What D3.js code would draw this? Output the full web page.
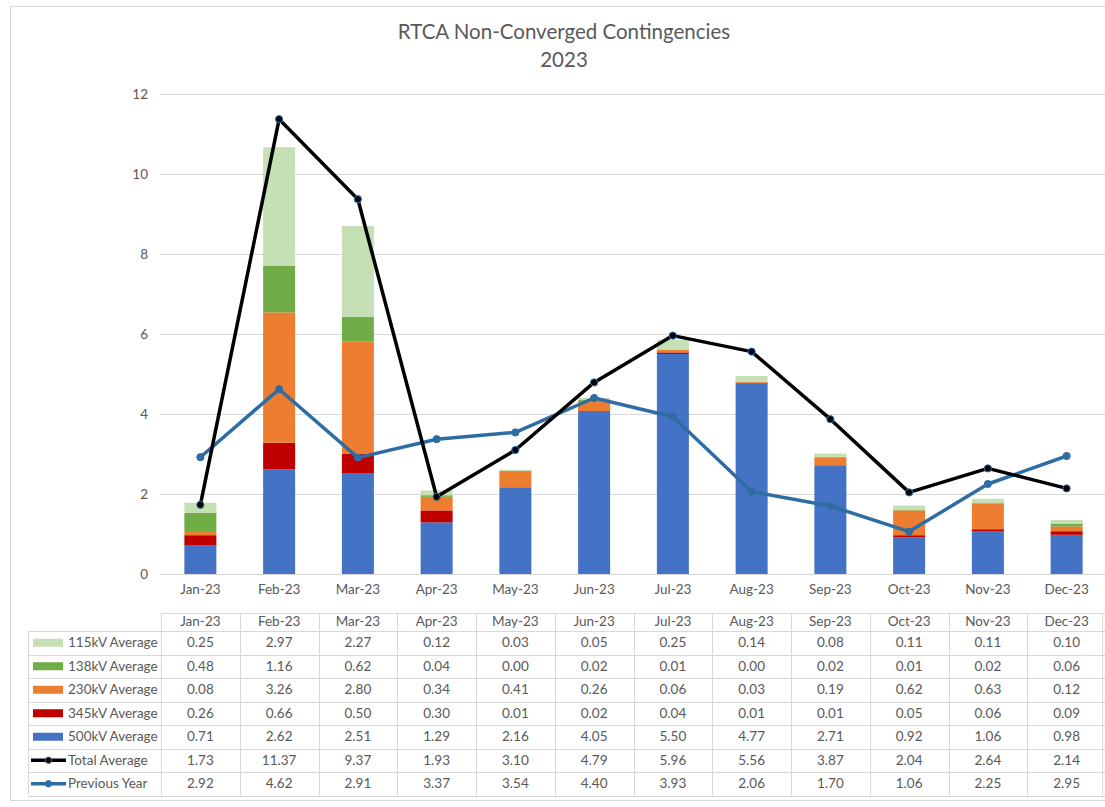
<!DOCTYPE html>
<html>
<head>
<meta charset="utf-8">
<script src="https://cdn.jsdelivr.net/npm/d3@7"></script>
<style>
  body { margin: 0; background: #fff; }
  svg { font-family: Lato, "Open Sans", sans-serif; }
</style>
</head>
<body>
<div id="chart"></div>
<script>
// months on the x axis
const months = ["Jan-23","Feb-23","Mar-23","Apr-23","May-23","Jun-23","Jul-23","Aug-23","Sep-23","Oct-23","Nov-23","Dec-23"];

// stacked bar series (values from the data table)
const kv115 = [0.25, 2.97, 2.27, 0.12, 0.03, 0.05, 0.25, 0.14, 0.08, 0.11, 0.11, 0.10];
const kv138 = [0.48, 1.16, 0.62, 0.04, 0.00, 0.02, 0.01, 0.00, 0.02, 0.01, 0.02, 0.06];
const kv230 = [0.08, 3.26, 2.80, 0.34, 0.41, 0.26, 0.06, 0.03, 0.19, 0.62, 0.63, 0.12];
const kv345 = [0.26, 0.66, 0.50, 0.30, 0.01, 0.02, 0.04, 0.01, 0.01, 0.05, 0.06, 0.09];
const kv500 = [0.71, 2.62, 2.51, 1.29, 2.16, 4.05, 5.50, 4.77, 2.71, 0.92, 1.06, 0.98];

// line series
const totalAvg = [1.73, 11.37, 9.37, 1.93, 3.10, 4.79, 5.96, 5.56, 3.87, 2.04, 2.64, 2.14];
const prevYear = [2.92, 4.62, 2.91, 3.37, 3.54, 4.40, 3.93, 2.06, 1.70, 1.06, 2.25, 2.95];

const yTicks = [0, 2, 4, 6, 8, 10, 12];

// stack order bottom -> top
const barSeries = [
  {name: "500kV Average", values: kv500, color: "#4472C4"},
  {name: "345kV Average", values: kv345, color: "#C00000"},
  {name: "230kV Average", values: kv230, color: "#ED7D31"},
  {name: "138kV Average", values: kv138, color: "#70AD47"},
  {name: "115kV Average", values: kv115, color: "#C5E0B4"}
];
const lineSeries = [
  {name: "Total Average", values: totalAvg, color: "#000000", marker: "#000000", outline: "#2E75B6"},
  {name: "Previous Year", values: prevYear, color: "#2E6DA4", marker: "#2E6DA4", outline: "#2E6DA4"}
];

// table rows in the order shown
const tableRows = [
  {name: "115kV Average", values: kv115, color: "#C5E0B4", type: "bar"},
  {name: "138kV Average", values: kv138, color: "#70AD47", type: "bar"},
  {name: "230kV Average", values: kv230, color: "#ED7D31", type: "bar"},
  {name: "345kV Average", values: kv345, color: "#C00000", type: "bar"},
  {name: "500kV Average", values: kv500, color: "#4472C4", type: "bar"},
  {name: "Total Average", values: totalAvg, color: "#000000", type: "line"},
  {name: "Previous Year", values: prevYear, color: "#2E6DA4", type: "line"}
];

const W = 1105, H = 807;
const svg = d3.select("#chart").append("svg")
  .attr("width", W).attr("height", H);

// outer chart border
svg.append("rect")
  .attr("x", 10.5).attr("y", 6.5).attr("width", 1110).attr("height", 794)
  .attr("fill", "none").attr("stroke", "#d9d9d9");

// title
svg.append("text").attr("x", 564).attr("y", 39).attr("text-anchor", "middle")
  .attr("fill", "#595959").style("font-size", "20.5px")
  .text("RTCA Non-Converged Contingencies");
svg.append("text").attr("x", 564).attr("y", 67).attr("text-anchor", "middle")
  .attr("fill", "#595959").style("font-size", "20.5px")
  .text("2023");

const x = d3.scaleBand().domain(months).range([161, 1106]).paddingInner(0).paddingOuter(0);
const y = d3.scaleLinear().domain([0, 12]).range([574, 94]);
const barW = 32;

// gridlines
svg.append("g").selectAll("line").data(yTicks).enter().append("line")
  .attr("x1", 161).attr("x2", 1106)
  .attr("y1", d => y(d) + 0.5).attr("y2", d => y(d) + 0.5)
  .attr("stroke", "#d9d9d9").attr("stroke-width", 1);

// y axis labels
const yAxis = d3.axisLeft(y).tickValues(yTicks).tickSize(0).tickPadding(0);
svg.append("g").attr("transform", "translate(148,0)").call(yAxis)
  .call(g => g.select(".domain").remove())
  .call(g => g.selectAll("text").attr("fill", "#595959").style("font-size", "13.5px").style("font-family", "Lato, sans-serif"));

// x axis labels
const xAxis = d3.axisBottom(x).tickSize(0).tickPadding(0);
svg.append("g").attr("transform", "translate(0,584)").call(xAxis)
  .call(g => g.select(".domain").remove())
  .call(g => g.selectAll("text").attr("fill", "#595959").style("font-size", "13.5px").style("font-family", "Lato, sans-serif"));

// stacked bars
const stackData = months.map((m, i) => {
  const row = {month: m};
  barSeries.forEach(s => row[s.name] = s.values[i]);
  return row;
});
const stack = d3.stack().keys(barSeries.map(s => s.name));
const stacked = stack(stackData);

svg.append("g").selectAll("g").data(stacked).enter().append("g")
  .attr("fill", (d, i) => barSeries[i].color)
  .selectAll("rect").data(d => d).enter().append("rect")
  .attr("x", d => x(d.data.month) + x.bandwidth() / 2 - barW / 2)
  .attr("width", barW)
  .attr("y", d => y(d[1]))
  .attr("height", d => Math.max(0, y(d[0]) - y(d[1])));

// lines
const line = d3.line()
  .x((d, i) => x(months[i]) + x.bandwidth() / 2)
  .y(d => y(d));

lineSeries.slice().reverse().forEach(s => {
  const g = svg.append("g");
  g.append("path")
    .attr("d", line(s.values))
    .attr("fill", "none")
    .attr("stroke", s.color)
    .attr("stroke-width", 3.5)
    .attr("stroke-linejoin", "round");
  g.selectAll("circle").data(s.values).enter().append("circle")
    .attr("cx", (d, i) => x(months[i]) + x.bandwidth() / 2)
    .attr("cy", d => y(d))
    .attr("r", 3.6)
    .attr("fill", s.marker)
    .attr("stroke", s.outline)
    .attr("stroke-width", 1);
});

// data table
const tTop = 613, headH = 18, rowH = 23.5, legendX = 28;
const tbl = svg.append("g");
const gridColor = "#d9d9d9";

// header row
tbl.append("line").attr("x1", 161).attr("x2", 1106).attr("y1", tTop + 0.5).attr("y2", tTop + 0.5).attr("stroke", gridColor);
tbl.selectAll(".hdr").data(months).enter().append("text")
  .attr("x", d => x(d) + x.bandwidth() / 2)
  .attr("y", tTop + 13)
  .attr("text-anchor", "middle")
  .attr("fill", "#595959").style("font-size", "13.5px")
  .text(d => d);

const bodyTop = tTop + headH;
// horizontal lines
d3.range(tableRows.length + 1).forEach(i => {
  tbl.append("line")
    .attr("x1", legendX).attr("x2", 1106)
    .attr("y1", Math.round(bodyTop + i * rowH) + 0.5).attr("y2", Math.round(bodyTop + i * rowH) + 0.5)
    .attr("stroke", gridColor);
});
// vertical lines
tbl.append("line").attr("x1", legendX + 0.5).attr("x2", legendX + 0.5)
  .attr("y1", bodyTop).attr("y2", bodyTop + tableRows.length * rowH).attr("stroke", gridColor);
months.forEach(m => {
  tbl.append("line").attr("x1", Math.round(x(m)) + 0.5).attr("x2", Math.round(x(m)) + 0.5)
    .attr("y1", tTop).attr("y2", bodyTop + tableRows.length * rowH).attr("stroke", gridColor);
});
tbl.append("line").attr("x1", 1102.5).attr("x2", 1102.5)
  .attr("y1", tTop).attr("y2", bodyTop + tableRows.length * rowH).attr("stroke", gridColor);

tableRows.forEach((r, ri) => {
  const cy = bodyTop + ri * rowH + rowH / 2;
  if (r.type === "bar") {
    tbl.append("rect").attr("x", 33).attr("y", cy - 4).attr("width", 30).attr("height", 8).attr("fill", r.color);
  } else {
    tbl.append("line").attr("x1", 31).attr("x2", 66).attr("y1", cy).attr("y2", cy)
      .attr("stroke", r.color).attr("stroke-width", 3.5);
    tbl.append("circle").attr("cx", 48.5).attr("cy", cy).attr("r", 3.2)
      .attr("fill", r.color).attr("stroke", "#2E75B6").attr("stroke-width", 1);
  }
  tbl.append("text").attr("x", 68).attr("y", cy + 4.5)
    .attr("fill", "#595959").style("font-size", "13.5px")
    .text(r.name);
  tbl.selectAll(null).data(r.values).enter().append("text")
    .attr("x", (d, i) => x(months[i]) + x.bandwidth() / 2)
    .attr("y", cy + 4.5)
    .attr("text-anchor", "middle")
    .attr("fill", "#595959").style("font-size", "13.5px")
    .text(d => d.toFixed(2));
});
</script>
</body>
</html>
